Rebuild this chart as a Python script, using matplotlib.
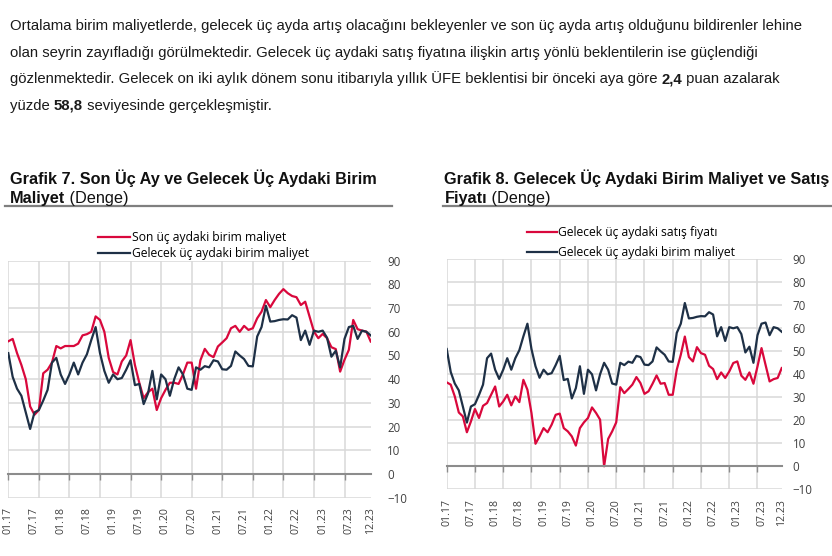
import matplotlib
matplotlib.use('Agg')
import matplotlib.pyplot as plt
from matplotlib.lines import Line2D

plt.rcParams['font.family'] = ['Open Sans', 'DejaVu Sans']

W, H = 832, 556

# monthly, 01.17 .. 12.23
son_maliyet = [56, 57, 51, 46, 40, 28.5, 25, 27, 42.5, 44, 47, 54, 53, 54, 54, 54, 55, 58.5, 59, 60,
               66.5, 65, 60, 49, 43, 42, 47.5, 50, 56.5, 46, 38.5, 32, 34.5, 36, 27, 32, 35.5, 38.5, 38.5, 38,
               42, 47, 47, 36, 48, 52.8, 50.3, 49.3, 53.8, 55.5, 57.3, 61.5, 62.5, 60, 62.5, 60.8, 61.5, 65.7, 68.5, 73.4,
               70.4, 73.4, 76, 78, 76.3, 75.1, 74.6, 71.3, 72.7, 66.4, 60.1, 57.3, 59.1, 57.3, 53.5, 52.7, 43.2, 48.2, 52.4, 65,
               61.1, 60.5, 60.1, 55.9]
gelecek_maliyet = [51, 41, 36, 33, 26, 19, 26, 27, 31, 35.5, 47, 49, 42, 38, 42, 47, 42, 47, 50.5, 56.5,
                   62, 51, 43.5, 38.5, 42, 40, 40.5, 44, 48, 37.5, 38, 29.5, 34, 43.5, 31.5, 42, 40, 33, 40, 45,
                   42, 36, 35.5, 45, 44, 45.5, 45, 48, 47.5, 44.2, 44, 45.6, 51.7, 50, 48.5, 45.6, 45.4, 58, 62, 71,
                   64.3, 64.5, 65, 65.3, 65.2, 67, 66, 56.5, 60.5, 54.5, 60.5, 60, 60.5, 57.5, 49.5, 52, 45, 57, 62, 62.5,
                   57, 60.5, 60, 58.5]
satis_fiyati = [36.5, 35.5, 30.4, 23.4, 21.7, 14.8, 19.5, 24.9, 21, 26.3, 27.5, 31.1, 34.7, 26, 28.2, 31.1, 26.5, 30.4, 27.9, 37.6,
                33.3, 23.2, 9.8, 13, 16.6, 14.8, 18.1, 22.4, 22.9, 16.6, 15.2, 13, 9, 16.6, 19.1, 21, 25.6, 23.2, 20.3, 0,
                11.9, 15.2, 19.1, 34.4, 31.8, 33.6, 35.5, 38.8, 36.2, 31.5, 32.6, 35.9, 39.5, 35.9, 36.2, 31.1, 31.1, 42, 48.5, 56.4,
                47.5, 45.6, 51.8, 49.2, 48.5, 43.7, 42.3, 37.9, 40.8, 38.4, 41.2, 44.9, 45.6, 39.4, 37.6, 40.8, 35.9, 43.4, 51.4, 44.1,
                36.9, 37.9, 38.4, 42.7]

months = list(range(len(son_maliyet)))
tick_idx = list(range(0, 79, 6)) + [83]
tick_labels = ['01.17', '07.17', '01.18', '07.18', '01.19', '07.19', '01.20', '07.20',
               '01.21', '07.21', '01.22', '07.22', '01.23', '07.23', '12.23']

RED = '#d9083c'
DARK = '#1e3046'


def fx(x):
    return x / W


def fy(y):
    return 1 - y / H


fig = plt.figure(figsize=(W / 100, H / 100), dpi=100)
renderer = fig.canvas.get_renderer()


def draw_rich(x, y, parts, **kw):
    for s, weight in parts:
        fig.text(fx(x), fy(y), s, fontweight=weight, va='baseline', ha='left', **kw)
        probe = fig.text(0, 0, s + '|', fontweight=weight, **kw)
        bar = fig.text(0, 0, '|', fontweight=weight, **kw)
        x += probe.get_window_extent(renderer).width - bar.get_window_extent(renderer).width
        probe.remove()
        bar.remove()


# paragraph
para = dict(fontsize=10.7, color='#1a1a1a', family=['Liberation Sans', 'DejaVu Sans'])
draw_rich(10, 30, [('Ortalama birim maliyetlerde, gelecek üç ayda artış olacağını bekleyenler ve son üç ayda artış olduğunu bildirenler lehine', 'normal')], **para)
draw_rich(10, 56.7, [('olan seyrin zayıfladığı görülmektedir. Gelecek üç aydaki satış fiyatına ilişkin artış yönlü beklentilerin ise güçlendiği', 'normal')], **para)
draw_rich(10, 83.3, [('gözlenmektedir. Gelecek on iki aylık dönem sonu itibarıyla yıllık ÜFE beklentisi bir önceki aya göre ', 'normal'),
                     ('2,4', 'bold'), (' puan azalarak', 'normal')], **para)
draw_rich(10, 110, [('yüzde ', 'normal'), ('58,8', 'bold'), (' seviyesinde gerçekleşmiştir.', 'normal')], **para)

# chart titles
title = dict(fontsize=11.7, color='#111111', family=['Liberation Sans', 'DejaVu Sans'])
draw_rich(10, 183.5, [('Grafik 7. Son Üç Ay ve Gelecek Üç Aydaki Birim', 'bold')], **title)
draw_rich(10, 203, [('Maliyet', 'bold'), (' (Denge)', 'normal')], **title)
draw_rich(444.5, 183.5, [('Grafik 8. Gelecek Üç Aydaki Birim Maliyet ve Satış', 'bold')], **title)
draw_rich(444.5, 203, [('Fiyatı', 'bold'), (' (Denge)', 'normal')], **title)
fig.add_artist(Line2D([fx(5), fx(392)], [fy(205.5), fy(205.5)], color='#7f7f7f', lw=1.6))
fig.add_artist(Line2D([fx(443), fx(832)], [fy(205.5), fy(205.5)], color='#7f7f7f', lw=1.6))


def make_axes(x0, y0, x1, y1, ypad):
    ax = fig.add_axes([fx(x0), fy(y1), (x1 - x0) / W, (y1 - y0) / H])
    ax.set_xlim(0, 83)
    ax.set_ylim(-10, 90)
    ax.set_yticks(range(-10, 91, 10))
    ax.yaxis.tick_right()
    ax.tick_params(axis='y', length=0, pad=ypad, labelsize=8.3, labelcolor='#404040')
    ax.set_xticks(range(0, 84, 7))
    ax.tick_params(axis='x', length=4, width=1, color='#8c8c8c', labelbottom=False, direction='out')
    for s in ['top', 'left', 'right']:
        ax.spines[s].set_visible(False)
    ax.spines['bottom'].set_position(('data', 0))
    ax.spines['bottom'].set_color('#8c8c8c')
    ax.spines['bottom'].set_linewidth(1.5)
    ax.grid(True, color='#d9d9d9', lw=1.1)
    ax.set_axisbelow(True)
    sec = ax.secondary_xaxis('bottom')
    sec.set_xticks(tick_idx, tick_labels)
    sec.tick_params(length=0, pad=7, rotation=90, labelsize=7.6, labelcolor='#404040')
    sec.spines['bottom'].set_visible(False)
    return ax


ax1 = make_axes(8.3, 260.7, 370.7, 497.7, ypad=12)
l1, = ax1.plot(months, son_maliyet, color=RED, lw=1.6)
l2, = ax1.plot(months, gelecek_maliyet, color=DARK, lw=1.6)
ax1.legend([l1, l2], ['Son üç aydaki birim maliyet', 'Gelecek üç aydaki birim maliyet'],
           loc='upper left', bbox_to_anchor=(fx(97.5), fy(231)), bbox_transform=fig.transFigure,
           frameon=False, borderpad=0, borderaxespad=0, handlelength=2.65, handletextpad=0.22,
           labelspacing=0.25, fontsize=8.7)

ax2 = make_axes(446.7, 259.3, 781.7, 489.3, ypad=8)
r1, = ax2.plot(months, satis_fiyati, color=RED, lw=1.6)
r2, = ax2.plot(months, gelecek_maliyet, color=DARK, lw=1.6)
ax2.legend([r1, r2], ['Gelecek üç aydaki satış fiyatı', 'Gelecek üç aydaki birim maliyet'],
           loc='upper left', bbox_to_anchor=(fx(526.5), fy(226)), bbox_transform=fig.transFigure,
           frameon=False, borderpad=0, borderaxespad=0, handlelength=2.5, handletextpad=0.1,
           labelspacing=0.62, fontsize=8.7)

fig.savefig('out.png', dpi=100)
